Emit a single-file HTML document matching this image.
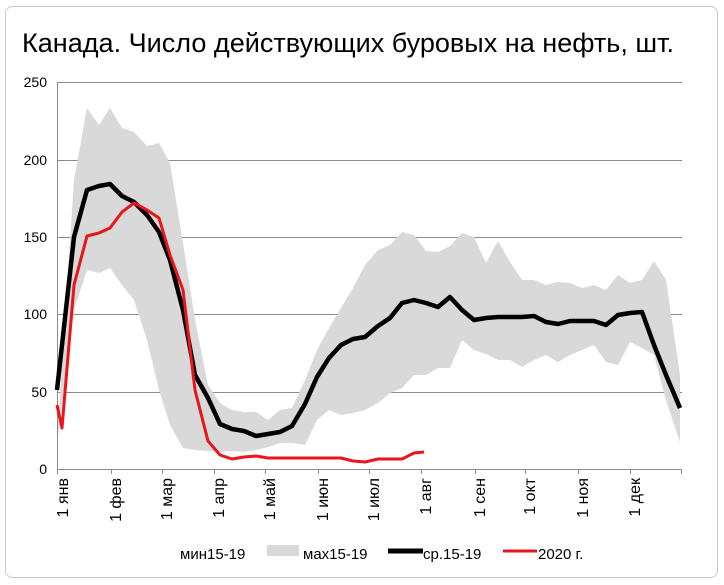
<!DOCTYPE html><html><head><meta charset="utf-8"><style>body{margin:0;background:#fff}svg{display:block}text{font-family:"Liberation Sans",sans-serif}</style></head><body>
<svg width="724" height="585" viewBox="0 0 724 585">
<rect width="724" height="585" fill="#fff"/>
<rect x="5.5" y="6.5" width="712" height="571" rx="7" fill="#fff" stroke="#c8c8c8"/>
<text x="22" y="52" font-size="27" fill="#000" style="font-family:'Liberation Sans Narrow','Liberation Sans',sans-serif" textLength="652" lengthAdjust="spacingAndGlyphs">Канада. Число действующих буровых на нефть, шт.</text>
<g stroke="#8c8c8c" stroke-width="1">
<line x1="57" y1="82.5" x2="682" y2="82.5"/><line x1="57" y1="160.5" x2="682" y2="160.5"/><line x1="57" y1="237.5" x2="682" y2="237.5"/><line x1="57" y1="314.5" x2="682" y2="314.5"/><line x1="57" y1="392.5" x2="682" y2="392.5"/>
</g>
<polygon fill="#d9d9d9" points="57,440 74,180 87,108 99,125 110,108 122,128 134,132 147,146 159,143 170,163 183,243 195,320 208,385 220,403 232,410 244,412 256,412 268,420 280,410 292,408 305,380 317,350 329,328 341,308 353,288 365,265 378,250 390,245 402,232 414,235 426,251 438,252 450,246 462,233 474,237 486,263 498,241 510,262 522,280 534,280 546,285 558,282 570,283 582,288 594,285 606,290 618,275 630,283 642,280 654,261 666,280 680,375 680,442 666,400 654,355 642,348 630,342 618,365 606,362 594,345 582,350 570,355 558,362 546,355 534,360 522,367 510,360 498,360 486,354 474,350 462,340 450,368 438,368 426,375 414,375 402,388 390,393 378,403 365,410 353,413 341,415 329,410 317,420 305,445 292,443 280,443 268,447 256,450 244,452 232,451 220,452 208,451 195,450 183,448 170,425 159,390 147,340 134,300 122,285 110,268 99,273 87,270 74,310 57,445"/>
<g stroke="#8c8c8c"><line x1="57.5" y1="82" x2="57.5" y2="474"/><line x1="57" y1="469.5" x2="682" y2="469.5"/>
<path d="M111.5 469v5M162.5 469v5M214.5 469v5M265.5 469v5M318.5 469v5M369.5 469v5M421.5 469v5M475.5 469v5M525.5 469v5M578.5 469v5M630.5 469v5M681.5 469v5"/></g>
<polyline fill="none" stroke="#000" stroke-width="4.5" stroke-linejoin="round" points="57,390 74,237 87,190 99,186 110,184 122,196 134,202 147,215 159,232 170,260 183,310 195,375 208,398 220,424 232,429 244,431 256,436 268,434 280,432 292,426 305,404 317,377 329,358 341,345 353,339 365,337 378,326 390,318 402,303 414,300 426,303 438,307 450,297 462,310 474,320 486,318 498,317 510,317 522,317 534,316 546,322 558,324 570,321 582,321 594,321 606,325 618,315 630,313 642,312 654,345 666,375 680,408"/>
<polyline fill="none" stroke="#e8161b" stroke-width="3" stroke-linejoin="round" points="57,405 62,428 74,285 87,236 99,233 110,228 122,212 134,203 147,210 159,218 170,255 183,290 195,390 208,441 220,455 232,459 244,457 256,456 268,458 280,458 292,458 305,458 317,458 329,458 341,458 353,461 365,462 378,459 390,459 402,459 414,453 424,452"/>
<g font-size="14" text-anchor="end" fill="#000">
<text x="47" y="87">250</text><text x="47" y="165">200</text><text x="47" y="242">150</text><text x="47" y="319">100</text><text x="47" y="397">50</text><text x="47" y="474">0</text></g>
<g font-size="16" text-anchor="end" fill="#000">
<text transform="translate(68,478) rotate(-90)">1 янв</text>
<text transform="translate(121,478) rotate(-90)">1 фев</text>
<text transform="translate(172,478) rotate(-90)">1 мар</text>
<text transform="translate(224,478) rotate(-90)">1 апр</text>
<text transform="translate(275,478) rotate(-90)">1 май</text>
<text transform="translate(328,478) rotate(-90)">1 июн</text>
<text transform="translate(379,478) rotate(-90)">1 июл</text>
<text transform="translate(431,478) rotate(-90)">1 авг</text>
<text transform="translate(485,478) rotate(-90)">1 сен</text>
<text transform="translate(535,478) rotate(-90)">1 окт</text>
<text transform="translate(588,478) rotate(-90)">1 ноя</text>
<text transform="translate(640,478) rotate(-90)">1 дек</text></g>
<g font-size="15" fill="#000">
<text x="180" y="559">мин15-19</text>
<rect x="267" y="545" width="32" height="11" fill="#d9d9d9"/>
<text x="303" y="559">мах15-19</text>
<line x1="388" y1="551" x2="423" y2="551" stroke="#000" stroke-width="5"/>
<text x="423" y="559">ср.15-19</text>
<line x1="503" y1="551" x2="537" y2="551" stroke="#e8161b" stroke-width="3"/>
<text x="538" y="559">2020 г.</text></g>
</svg></body></html>
